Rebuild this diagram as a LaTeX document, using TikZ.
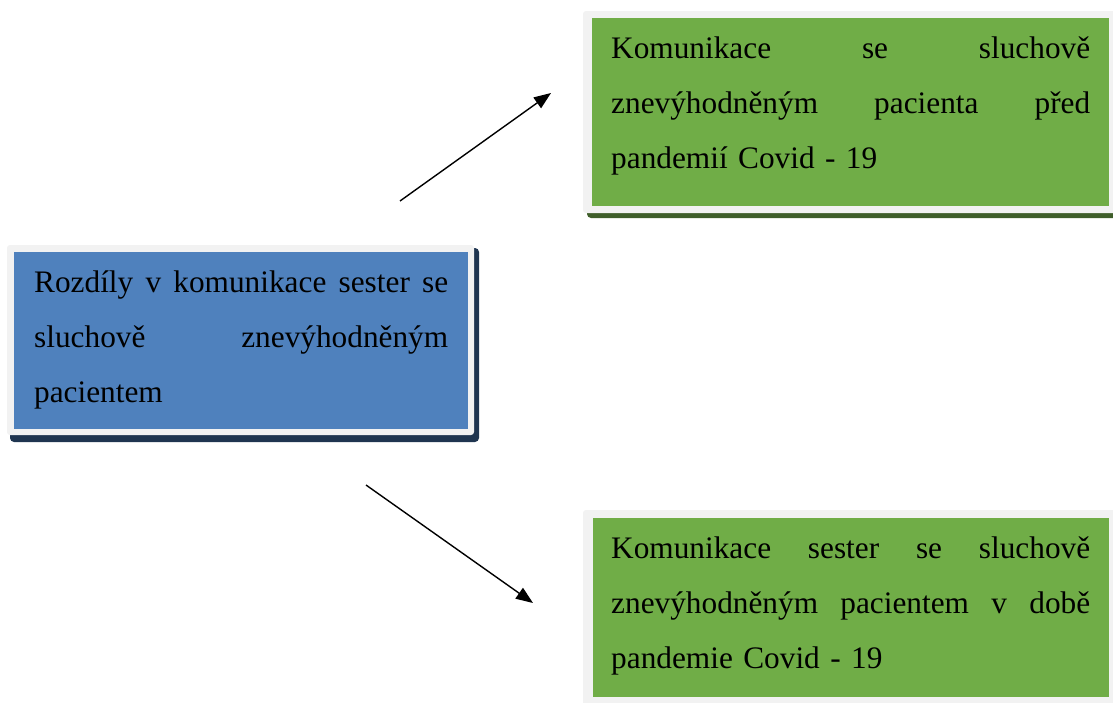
\documentclass[tikz,border=0pt]{standalone}
\usepackage{fontspec}
\setmainfont{Liberation Serif}
\usetikzlibrary{calc,arrows.meta}
\definecolor{boxblue}{HTML}{4F81BD}
\definecolor{boxgreen}{HTML}{70AD47}
\definecolor{framegray}{HTML}{F2F2F2}
\definecolor{shadeblue}{HTML}{1F3550}
\definecolor{shadegreen}{HTML}{3F5E2A}
\newcommand{\jl}[2]{\makebox[#1][s]{#2}}
\tikzset{
  colbox/.style={draw=none, inner sep=0pt, anchor=north west},
  txt/.style={inner sep=0pt, anchor=north west, align=left,
    font=\fontsize{31.3pt}{55pt}\selectfont, text=black},
  frame/.style={fill=framegray, rounded corners=3pt},
  arr/.style={line width=1.4pt, -{Triangle[length=17pt,width=13pt]}},
}
\begin{document}
\begin{tikzpicture}[x=1pt,y=-1pt]
\useasboundingbox (0,0) rectangle (1113,702);
\clip (0,0) rectangle (1113,702);
% blue box
\fill[shadeblue, rounded corners=4pt] (10,248) rectangle (479,442);
\fill[frame] (7,245) rectangle (474,435);
\node[colbox, fill=boxblue, minimum width=454pt, minimum height=177pt] (b) at (14,252) {};
\node[txt, text width=414pt] (bt) at ($(b.north west)+(20,1.5)$)
  {\strut\jl{414pt}{Rozdíly\hfill v\hfill komunikace\hfill sester\hfill se}\\
   \jl{414pt}{sluchově\hfill znevýhodněným}\\
   pacientem};
% top green box
\fill[shadegreen, rounded corners=4pt] (587,15) rectangle (1125,218);
\fill[frame] (583,11) rectangle (1120,213);
\node[colbox, fill=boxgreen, minimum width=517pt, minimum height=188pt] (g1) at (592,18) {};
\node[txt, text width=479pt] (g1t) at ($(g1.north west)+(19,1.5)$)
  {\strut\jl{479pt}{Komunikace\hfill se\hfill sluchově}\\
   \jl{479pt}{znevýhodněným\hfill pacienta\hfill před}\\
   pandemií Covid - 19};
% bottom green box
\fill[frame] (583,510) rectangle (1120,720);
\node[colbox, fill=boxgreen, minimum width=516pt, minimum height=179pt] (g2) at (593,518) {};
\node[txt, text width=479pt] (g2t) at ($(g2.north west)+(18,1.5)$)
  {\strut\jl{479pt}{Komunikace\hfill sester\hfill se\hfill sluchově}\\
   \jl{479pt}{znevýhodněným\hfill pacientem\hfill v\hfill době}\\
   pandemie Covid - 19};
% arrows
\coordinate (a1s) at (400,201);
\coordinate (a1e) at (551,93);
\coordinate (a2s) at (366,485);
\coordinate (a2e) at (533,603);
\draw[arr] (a1s) -- (a1e);
\draw[arr] (a2s) -- (a2e);
\end{tikzpicture}
\end{document}
